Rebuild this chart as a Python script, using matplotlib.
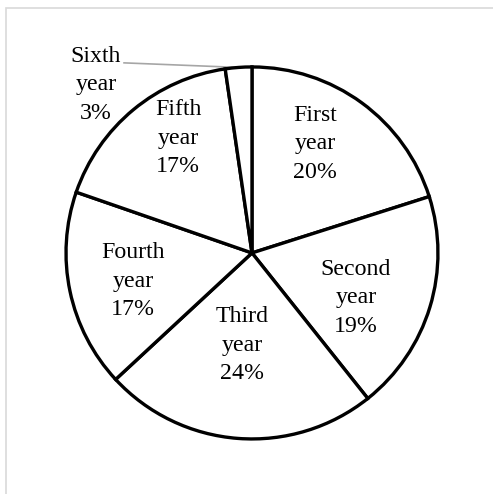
import numpy as np
import matplotlib.pyplot as plt
from matplotlib.patches import Rectangle

years = ["First", "Second", "Third", "Fourth", "Fifth", "Sixth"]
shares = [20.1, 19.2, 23.8, 17.2, 17.4, 2.3]
pct_labels = ["20%", "19%", "24%", "17%", "17%", "3%"]

# label centres, in units of the pie radius
label_pos = [(0.339, 0.586), (0.559, -0.242), (-0.054, -0.495),
             (-0.640, -0.151), (-0.398, 0.618), (-0.839, 0.903)]

plt.rcParams["font.family"] = ["Liberation Serif", "DejaVu Serif"]

fig = plt.figure(figsize=(4.93, 4.94), dpi=100)
# light grey frame, only top and left edges visible
fig.patches.append(Rectangle((6 / 493, -0.5), 2, 0.5 + 486 / 494,
                             transform=fig.transFigure, fill=False,
                             edgecolor="#d9d9d9", lw=1.2))

ax = fig.add_axes([0, 0, 1, 1])
wedges, _ = ax.pie(shares, startangle=90, counterclock=False,
                   colors=["white"] * len(shares),
                   wedgeprops=dict(edgecolor="black", linewidth=2.4))
ax.set_xlim(-1.355, 1.296)
ax.set_ylim(-1.296, 1.360)
ax.set_aspect("auto")

for name, pct, (x, y) in zip(years, pct_labels, label_pos):
    ax.text(x, y, f"{name}\nyear\n{pct}", ha="center", va="center",
            fontsize=17.2, linespacing=1.46)

# leader line for the small slice
w = wedges[-1]
mid = np.deg2rad((w.theta1 + w.theta2) / 2)
ax.plot([np.cos(mid), -0.688], [np.sin(mid), 1.022], color="#a6a6a6", lw=1.2,
        zorder=0.5)

fig.savefig("out.png", dpi=100)
